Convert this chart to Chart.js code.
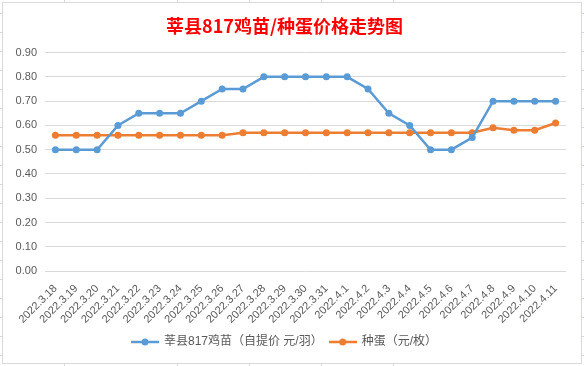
<!DOCTYPE html>
<html>
<head>
<meta charset="utf-8">
<script src="https://cdn.jsdelivr.net/npm/chart.js@4"></script>
<style>
  html, body { margin: 0; padding: 0; }
  body {
    width: 584px; height: 366px; position: relative; overflow: hidden;
    background: repeating-linear-gradient(to bottom, transparent 0, transparent 13px, #d5d7e3 13px, #d5d7e3 14px, transparent 14px, transparent 19px);
  }
  .col { position: absolute; top: 0; width: 1px; height: 366px; background: #d5d7e3; }
  #box {
    position: absolute; left: 2px; top: 2px; width: 578px; height: 360px;
    border: 1px solid #d9d9d9; background: #fff;
  }
</style>
</head>
<body>
<div class="col" style="left:64px"></div>
<div class="col" style="left:177px"></div>
<div class="col" style="left:249px"></div>
<div class="col" style="left:321px"></div>
<div class="col" style="left:393px"></div>
<div id="box"><canvas id="chart" width="578" height="360"></canvas></div>
<script>
const chartTitle = "莘县817鸡苗/种蛋价格走势图";

const dates = [
  "2022.3.18", "2022.3.19", "2022.3.20", "2022.3.21", "2022.3.22", "2022.3.23",
  "2022.3.24", "2022.3.25", "2022.3.26", "2022.3.27", "2022.3.28", "2022.3.29",
  "2022.3.30", "2022.3.31", "2022.4.1", "2022.4.2", "2022.4.3", "2022.4.4",
  "2022.4.5", "2022.4.6", "2022.4.7", "2022.4.8", "2022.4.9", "2022.4.10", "2022.4.11"
];

const chickLabel = "莘县817鸡苗（自提价 元/羽）";
const chickPrice = [
  0.50, 0.50, 0.50, 0.60, 0.65, 0.65, 0.65, 0.70, 0.75, 0.75, 0.80, 0.80,
  0.80, 0.80, 0.80, 0.75, 0.65, 0.60, 0.50, 0.50, 0.55, 0.70, 0.70, 0.70, 0.70
];

const eggLabel = "种蛋（元/枚）";
const eggPrice = [
  0.56, 0.56, 0.56, 0.56, 0.56, 0.56, 0.56, 0.56, 0.56, 0.57, 0.57, 0.57,
  0.57, 0.57, 0.57, 0.57, 0.57, 0.57, 0.57, 0.57, 0.57, 0.59, 0.58, 0.58, 0.61
];

const yTicks = [0, 0.1, 0.2, 0.3, 0.4, 0.5, 0.6, 0.7, 0.8, 0.9];

const BLUE = "#5b9bd5";
const ORANGE = "#ed7d31";
const TEXT = "#595959";
const FONT = "'Liberation Sans', 'Noto Sans CJK SC', sans-serif";

// excel style legend marker: short line with a dot in the middle
function legendMarker(color) {
  const c = document.createElement("canvas");
  c.width = 28;
  c.height = 10;
  const g = c.getContext("2d");
  g.strokeStyle = color;
  g.lineWidth = 2.5;
  g.beginPath();
  g.moveTo(0, 5);
  g.lineTo(28, 5);
  g.stroke();
  g.fillStyle = color;
  g.beginPath();
  g.arc(14, 5, 3.5, 0, Math.PI * 2);
  g.fill();
  return c;
}

const markers = [legendMarker(BLUE), legendMarker(ORANGE)];

const ctx = document.getElementById("chart");

new Chart(ctx, {
  type: "line",
  data: {
    labels: dates,
    datasets: [
      {
        label: chickLabel,
        data: chickPrice,
        borderColor: BLUE,
        backgroundColor: BLUE,
        borderWidth: 2.5,
        pointRadius: 3.5,
        pointBorderWidth: 0,
        tension: 0
      },
      {
        label: eggLabel,
        data: eggPrice,
        borderColor: ORANGE,
        backgroundColor: ORANGE,
        borderWidth: 2.5,
        pointRadius: 3.5,
        pointBorderWidth: 0,
        tension: 0
      }
    ]
  },
  options: {
    responsive: false,
    animation: false,
    layout: { padding: { left: 0, right: 15, top: 0, bottom: 5 } },
    plugins: {
      title: {
        display: true,
        text: chartTitle,
        color: "#ff0000",
        font: { family: "'Noto Sans CJK SC', sans-serif", size: 18, weight: "bold" },
        padding: { top: 12, bottom: 16 }
      },
      legend: {
        position: "bottom",
        labels: {
          color: TEXT,
          font: { family: FONT, size: 12 },
          usePointStyle: true,
          pointStyleWidth: 26,
          padding: 7,
          generateLabels(chart) {
            const items = Chart.defaults.plugins.legend.labels.generateLabels(chart);
            items.forEach((it, i) => { it.pointStyle = markers[i]; });
            return items;
          }
        }
      },
      tooltip: { enabled: false }
    },
    scales: {
      x: {
        offset: true,
        grid: { display: false },
        border: { display: false },
        ticks: {
          color: TEXT,
          font: { family: FONT, size: 11 },
          minRotation: 45,
          maxRotation: 45,
          autoSkip: false
        }
      },
      y: {
        min: 0,
        max: 0.9,
        afterFit(scale) { scale.width = 42; },
        afterBuildTicks(scale) { scale.ticks = yTicks.map(v => ({ value: v })); },
        grid: { color: "#d9d9d9", drawTicks: false },
        border: { display: false },
        ticks: {
          color: TEXT,
          font: { family: FONT, size: 11 },
          padding: 8,
          callback: v => v.toFixed(2)
        }
      }
    }
  }
});
</script>
</body>
</html>
